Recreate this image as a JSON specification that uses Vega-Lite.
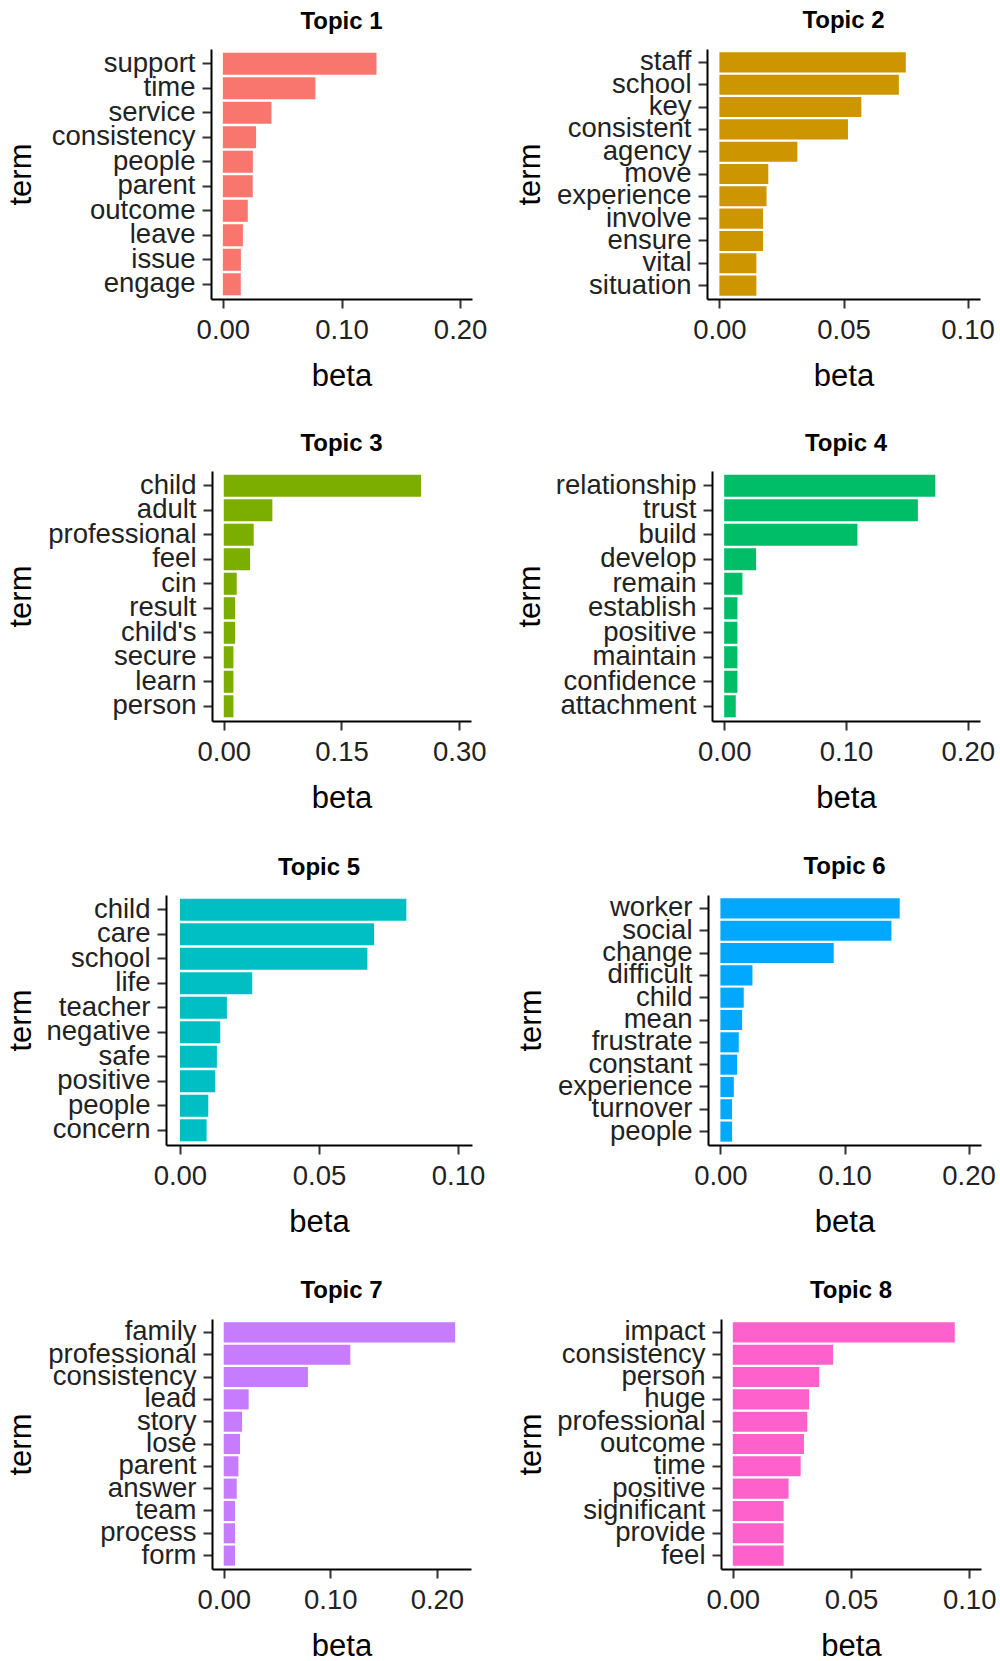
{
  "$schema": "https://vega.github.io/schema/vega-lite/v6.json",
  "padding": {"top": 8, "left": 4, "right": 0, "bottom": 0},
  "background": "white",
  "datasets": {
    "d": [
      {"topic": 1, "term": "support", "beta": 0.1295},
      {"topic": 1, "term": "time", "beta": 0.078},
      {"topic": 1, "term": "service", "beta": 0.041},
      {"topic": 1, "term": "consistency", "beta": 0.028},
      {"topic": 1, "term": "people", "beta": 0.0253},
      {"topic": 1, "term": "parent", "beta": 0.0252},
      {"topic": 1, "term": "outcome", "beta": 0.021},
      {"topic": 1, "term": "leave", "beta": 0.0169},
      {"topic": 1, "term": "issue", "beta": 0.0152},
      {"topic": 1, "term": "engage", "beta": 0.0151},
      {"topic": 2, "term": "staff", "beta": 0.0751},
      {"topic": 2, "term": "school", "beta": 0.0723},
      {"topic": 2, "term": "key", "beta": 0.0572},
      {"topic": 2, "term": "consistent", "beta": 0.0518},
      {"topic": 2, "term": "agency", "beta": 0.0314},
      {"topic": 2, "term": "move", "beta": 0.0197},
      {"topic": 2, "term": "experience", "beta": 0.019},
      {"topic": 2, "term": "involve", "beta": 0.0176},
      {"topic": 2, "term": "ensure", "beta": 0.0176},
      {"topic": 2, "term": "vital", "beta": 0.0149},
      {"topic": 2, "term": "situation", "beta": 0.0149},
      {"topic": 3, "term": "child", "beta": 0.2513},
      {"topic": 3, "term": "adult", "beta": 0.0619},
      {"topic": 3, "term": "professional", "beta": 0.0381},
      {"topic": 3, "term": "feel", "beta": 0.0335},
      {"topic": 3, "term": "cin", "beta": 0.0165},
      {"topic": 3, "term": "result", "beta": 0.0144},
      {"topic": 3, "term": "child's", "beta": 0.0144},
      {"topic": 3, "term": "secure", "beta": 0.0123},
      {"topic": 3, "term": "learn", "beta": 0.0123},
      {"topic": 3, "term": "person", "beta": 0.0123},
      {"topic": 4, "term": "relationship", "beta": 0.1733},
      {"topic": 4, "term": "trust", "beta": 0.159},
      {"topic": 4, "term": "build", "beta": 0.1094},
      {"topic": 4, "term": "develop", "beta": 0.0262},
      {"topic": 4, "term": "remain", "beta": 0.015},
      {"topic": 4, "term": "establish", "beta": 0.0109},
      {"topic": 4, "term": "positive", "beta": 0.0109},
      {"topic": 4, "term": "maintain", "beta": 0.0109},
      {"topic": 4, "term": "confidence", "beta": 0.0109},
      {"topic": 4, "term": "attachment", "beta": 0.0095},
      {"topic": 5, "term": "child", "beta": 0.0814},
      {"topic": 5, "term": "care", "beta": 0.0698},
      {"topic": 5, "term": "school", "beta": 0.0674},
      {"topic": 5, "term": "life", "beta": 0.026},
      {"topic": 5, "term": "teacher", "beta": 0.0169},
      {"topic": 5, "term": "negative", "beta": 0.0145},
      {"topic": 5, "term": "safe", "beta": 0.0133},
      {"topic": 5, "term": "positive", "beta": 0.0127},
      {"topic": 5, "term": "people", "beta": 0.0102},
      {"topic": 5, "term": "concern", "beta": 0.0096},
      {"topic": 6, "term": "worker", "beta": 0.1445},
      {"topic": 6, "term": "social", "beta": 0.1378},
      {"topic": 6, "term": "change", "beta": 0.0913},
      {"topic": 6, "term": "difficult", "beta": 0.0258},
      {"topic": 6, "term": "child", "beta": 0.0188},
      {"topic": 6, "term": "mean", "beta": 0.0175},
      {"topic": 6, "term": "frustrate", "beta": 0.0148},
      {"topic": 6, "term": "constant", "beta": 0.0135},
      {"topic": 6, "term": "experience", "beta": 0.0108},
      {"topic": 6, "term": "turnover", "beta": 0.0094},
      {"topic": 6, "term": "people", "beta": 0.0094},
      {"topic": 7, "term": "family", "beta": 0.2172},
      {"topic": 7, "term": "professional", "beta": 0.1188},
      {"topic": 7, "term": "consistency", "beta": 0.079},
      {"topic": 7, "term": "lead", "beta": 0.0234},
      {"topic": 7, "term": "story", "beta": 0.0172},
      {"topic": 7, "term": "lose", "beta": 0.0153},
      {"topic": 7, "term": "parent", "beta": 0.0138},
      {"topic": 7, "term": "answer", "beta": 0.0122},
      {"topic": 7, "term": "team", "beta": 0.0106},
      {"topic": 7, "term": "process", "beta": 0.0106},
      {"topic": 7, "term": "form", "beta": 0.0106},
      {"topic": 8, "term": "impact", "beta": 0.0939},
      {"topic": 8, "term": "consistency", "beta": 0.0424},
      {"topic": 8, "term": "person", "beta": 0.0366},
      {"topic": 8, "term": "huge", "beta": 0.0323},
      {"topic": 8, "term": "professional", "beta": 0.0315},
      {"topic": 8, "term": "outcome", "beta": 0.0301},
      {"topic": 8, "term": "time", "beta": 0.0287},
      {"topic": 8, "term": "positive", "beta": 0.0236},
      {"topic": 8, "term": "significant", "beta": 0.0215},
      {"topic": 8, "term": "provide", "beta": 0.0215},
      {"topic": 8, "term": "feel", "beta": 0.0215}
    ],
    "empty": []
  },
  "data": {"name": "d"},
  "spacing": 41,
  "vconcat": [
    {
      "spacing": 0,
      "hconcat": [
        {"width": 1, "height": 1, "data": {"name": "empty"}, "mark": "point"},
        {
          "spacing": 27,
          "hconcat": [
            {
              "width": 261, "height": 250,
              "title": "Topic 1",
              "transform": [{"filter": "datum.topic == 1"}],
              "mark": {"type": "bar", "color": "#F8766D"},
              "encoding": {
                "y": {"field": "term", "type": "nominal", "sort": null, "title": "term", "scale": {"paddingInner": 0.1, "paddingOuter": 0.15}, "axis": {"minExtent": 168, "maxExtent": 168}},
                "x": {"field": "beta", "type": "quantitative", "title": "beta", "scale": {"domain": [-0.01, 0.21], "nice": false}, "axis": {"values": [0, 0.1, 0.2], "format": ".2f"}}
              }
            },
            {
              "width": 273, "height": 250,
              "title": "Topic 2",
              "transform": [{"filter": "datum.topic == 2"}],
              "mark": {"type": "bar", "color": "#CD9600"},
              "encoding": {
                "y": {"field": "term", "type": "nominal", "sort": null, "title": "term", "scale": {"paddingInner": 0.1, "paddingOuter": 0.15}, "axis": {"minExtent": 155, "maxExtent": 155}},
                "x": {"field": "beta", "type": "quantitative", "title": "beta", "scale": {"domain": [-0.005, 0.105], "nice": false}, "axis": {"values": [0, 0.05, 0.1], "format": ".2f"}}
              }
            }
          ]
        }
      ]
    },
    {
      "spacing": 0,
      "hconcat": [
        {"width": 1, "height": 1, "data": {"name": "empty"}, "mark": "point"},
        {
          "spacing": 28,
          "hconcat": [
            {
              "width": 259, "height": 250,
              "title": "Topic 3",
              "transform": [{"filter": "datum.topic == 3"}],
              "mark": {"type": "bar", "color": "#7CAE00"},
              "encoding": {
                "y": {"field": "term", "type": "nominal", "sort": null, "title": "term", "scale": {"paddingInner": 0.1, "paddingOuter": 0.15}, "axis": {"minExtent": 169, "maxExtent": 169}},
                "x": {"field": "beta", "type": "quantitative", "title": "beta", "scale": {"domain": [-0.015, 0.315], "nice": false}, "axis": {"values": [0, 0.15, 0.3], "format": ".2f"}}
              }
            },
            {
              "width": 268, "height": 250,
              "title": "Topic 4",
              "transform": [{"filter": "datum.topic == 4"}],
              "mark": {"type": "bar", "color": "#00BE67"},
              "encoding": {
                "y": {"field": "term", "type": "nominal", "sort": null, "title": "term", "scale": {"paddingInner": 0.1, "paddingOuter": 0.15}, "axis": {"minExtent": 160, "maxExtent": 160}},
                "x": {"field": "beta", "type": "quantitative", "title": "beta", "scale": {"domain": [-0.01, 0.21], "nice": false}, "axis": {"values": [0, 0.1, 0.2], "format": ".2f"}}
              }
            }
          ]
        }
      ]
    },
    {
      "spacing": 0,
      "hconcat": [
        {"width": 1, "height": 1, "data": {"name": "empty"}, "mark": "point"},
        {
          "spacing": 30,
          "hconcat": [
            {
              "width": 306, "height": 250,
              "title": "Topic 5",
              "transform": [{"filter": "datum.topic == 5"}],
              "mark": {"type": "bar", "color": "#00BFC4"},
              "encoding": {
                "y": {"field": "term", "type": "nominal", "sort": null, "title": "term", "scale": {"paddingInner": 0.1, "paddingOuter": 0.15}, "axis": {"minExtent": 123, "maxExtent": 123}},
                "x": {"field": "beta", "type": "quantitative", "title": "beta", "scale": {"domain": [-0.005, 0.105], "nice": false}, "axis": {"values": [0, 0.05, 0.1], "format": ".2f"}}
              }
            },
            {
              "width": 273, "height": 250,
              "title": "Topic 6",
              "transform": [{"filter": "datum.topic == 6"}],
              "mark": {"type": "bar", "color": "#00A9FF"},
              "encoding": {
                "y": {"field": "term", "type": "nominal", "sort": null, "title": "term", "scale": {"paddingInner": 0.1, "paddingOuter": 0.15}, "axis": {"minExtent": 155, "maxExtent": 155}},
                "x": {"field": "beta", "type": "quantitative", "title": "beta", "scale": {"domain": [-0.01, 0.21], "nice": false}, "axis": {"values": [0, 0.1, 0.2], "format": ".2f"}}
              }
            }
          ]
        }
      ]
    },
    {
      "spacing": 0,
      "hconcat": [
        {"width": 1, "height": 1, "data": {"name": "empty"}, "mark": "point"},
        {
          "spacing": 44,
          "hconcat": [
            {
              "width": 259, "height": 250,
              "title": "Topic 7",
              "transform": [{"filter": "datum.topic == 7"}],
              "mark": {"type": "bar", "color": "#C77CFF"},
              "encoding": {
                "y": {"field": "term", "type": "nominal", "sort": null, "title": "term", "scale": {"paddingInner": 0.1, "paddingOuter": 0.15}, "axis": {"minExtent": 169, "maxExtent": 169}},
                "x": {"field": "beta", "type": "quantitative", "title": "beta", "scale": {"domain": [-0.011, 0.232], "nice": false}, "axis": {"values": [0, 0.1, 0.2], "format": ".2f"}}
              }
            },
            {
              "width": 260, "height": 250,
              "title": "Topic 8",
              "transform": [{"filter": "datum.topic == 8"}],
              "mark": {"type": "bar", "color": "#FF61CC"},
              "encoding": {
                "y": {"field": "term", "type": "nominal", "sort": null, "title": "term", "scale": {"paddingInner": 0.1, "paddingOuter": 0.15}, "axis": {"minExtent": 168, "maxExtent": 168}},
                "x": {"field": "beta", "type": "quantitative", "title": "beta", "scale": {"domain": [-0.005, 0.105], "nice": false}, "axis": {"values": [0, 0.05, 0.1], "format": ".2f"}}
              }
            }
          ]
        }
      ]
    }
  ],
  "config": {
    "font": "Liberation Sans",
    "view": {"stroke": null},
    "axis": {
      "grid": false,
      "domainColor": "#000000",
      "domainWidth": 2,
      "tickColor": "#333333",
      "tickWidth": 2,
      "tickSize": 9,
      "labelFont": "Liberation Sans",
      "labelFontSize": 27.5,
      "labelColor": "#222222",
      "labelPadding": 7,
      "labelOverlap": false,
      "labelFlush": false,
      "titleFont": "Liberation Sans",
      "titleFontSize": 31,
      "titleFontWeight": "normal",
      "titleColor": "#000000"
    },
    "axisX": {"labelPadding": 8, "minExtent": 44, "maxExtent": 44, "titlePadding": 18},
    "axisY": {"titlePadding": 6},
    "title": {"font": "Liberation Sans", "fontSize": 24, "fontWeight": "bold", "color": "#000000", "baseline": "bottom", "offset": 15, "frame": "group", "anchor": "middle"}
  }
}
